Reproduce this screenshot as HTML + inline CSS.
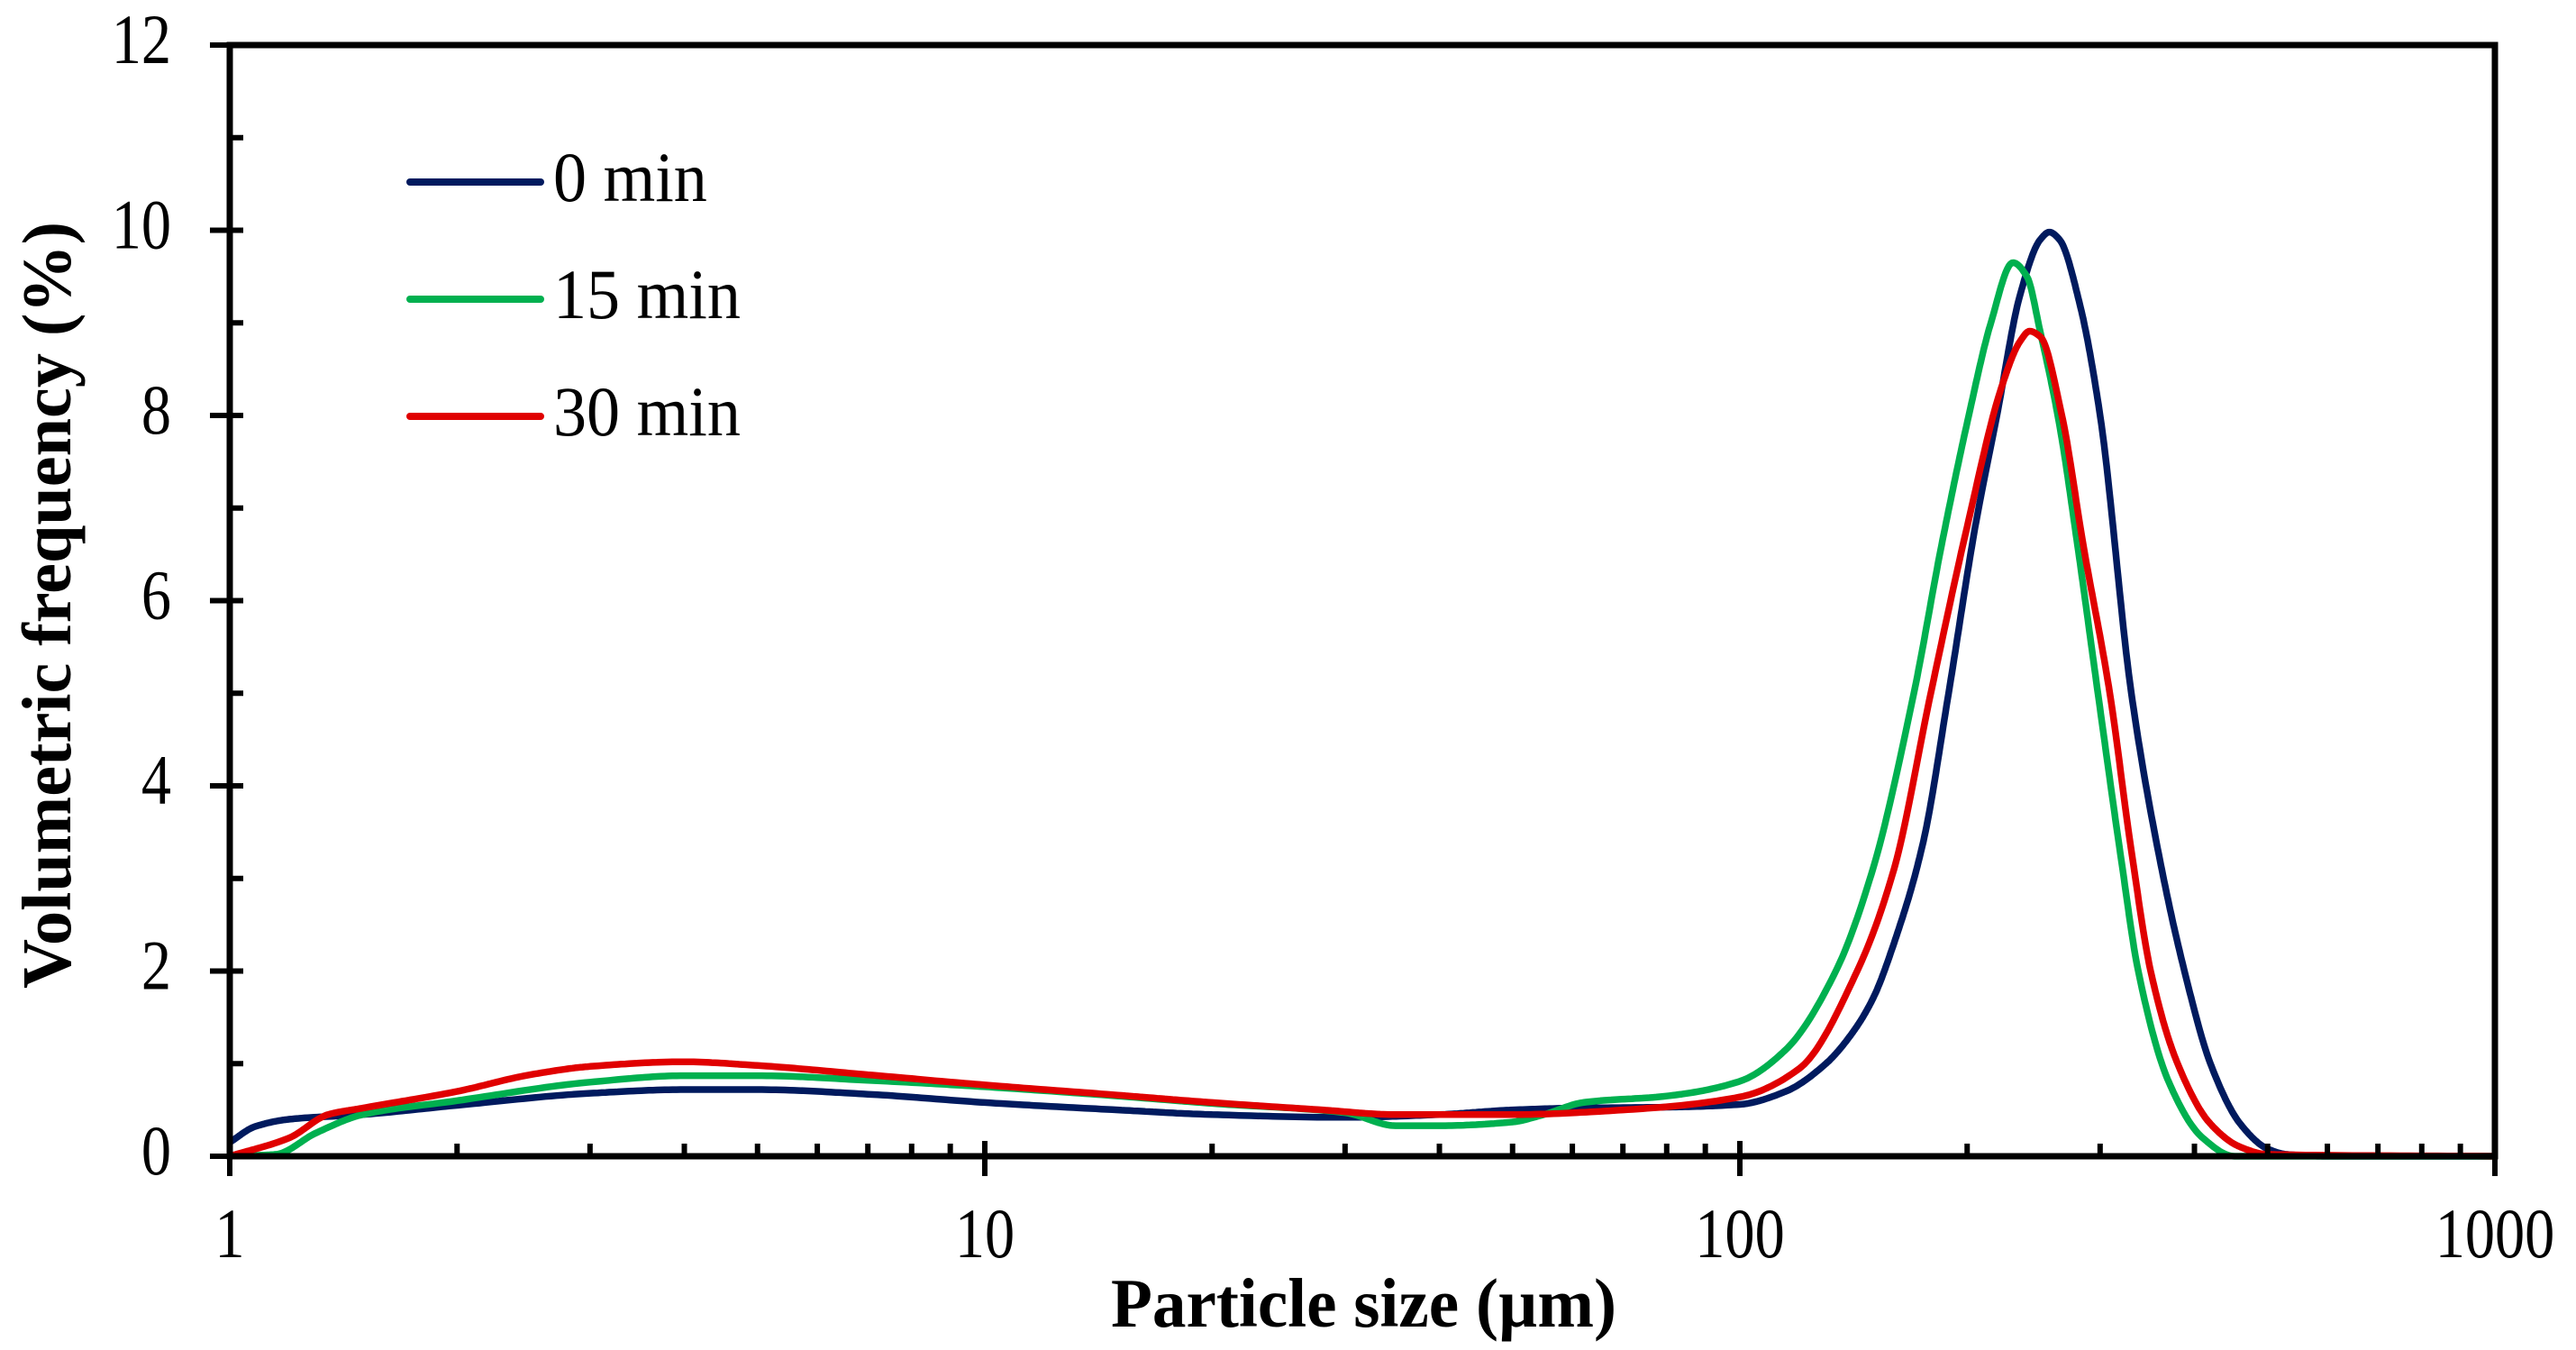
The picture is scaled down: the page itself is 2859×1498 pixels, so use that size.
<!DOCTYPE html>
<html><head><meta charset="utf-8"><style>
html,body{margin:0;padding:0;background:#fff;}
svg{display:block;}
text{font-family:"Liberation Serif","Times New Roman",serif;fill:#000;}
</style></head><body>
<svg id="chart" width="2859" height="1498" viewBox="0 0 2859 1498" xmlns="http://www.w3.org/2000/svg">
<g id="series"></g>
<g id="axes"></g>
<g id="legend"></g>
</svg>
<script>
const xTickValues = [1, 10, 100, 1000];
const xTickLabels = ["1", "10", "100", "1000"];
const yTickValues = [0, 2, 4, 6, 8, 10, 12];
const yTickLabels = ["0", "2", "4", "6", "8", "10", "12"];
const seriesNames = ["0 min", "15 min", "30 min"];
const seriesColors = ["#001a5e", "#00b04f", "#e00000"];
const x0min = [1,1.08,1.2,1.5,2,3,4,5,7,10,15,20,30,40,50,60,80,100,115,130,140,150,160,175,189,205,219,235,250,257,265,282,300,330,360,388,420,460,500,530,600,1000];
const y0min = [0.15,0.32,0.4,0.45,0.55,0.68,0.72,0.72,0.67,0.58,0.5,0.45,0.42,0.45,0.5,0.52,0.53,0.56,0.7,1.0,1.3,1.7,2.3,3.4,5.0,6.8,8.0,9.3,9.9,9.98,9.9,9.2,8.0,5.0,3.2,2.0,1.0,0.35,0.08,0.02,0,0];
const x15min = [1,1.15,1.3,1.5,2,3,4,5,7,10,15,20,30,35,40,50,55,62,80,100,115,134,150,170,185,201,215,230,240,250,265,280,298,320,337,370,410,452,1000];
const y15min = [0,0.02,0.25,0.45,0.6,0.8,0.87,0.87,0.82,0.75,0.65,0.57,0.47,0.33,0.33,0.37,0.45,0.58,0.65,0.81,1.15,2.0,3.1,5.0,6.6,8.0,9.0,9.65,9.5,8.9,7.9,6.6,5.0,3.2,2.0,0.8,0.2,0,0];
const x30min = [1,1.2,1.35,1.5,2,2.5,3,4,5,7,10,15,20,28,35,50,70,100,120,143,160,179,200,222,235,242,250,267,285,309,330,350,380,420,460,500,1000];
const y30min = [0,0.2,0.45,0.52,0.7,0.88,0.97,1.02,0.98,0.88,0.77,0.66,0.58,0.5,0.45,0.45,0.5,0.64,0.95,2.0,3.1,5.0,6.8,8.3,8.8,8.91,8.85,8.0,6.6,5.0,3.3,2.0,1.0,0.35,0.1,0.02,0];

const NS = "http://www.w3.org/2000/svg";
const L = 255, R = 2769, T = 50, B = 1283;
function xs(v){ return L + Math.log10(v) / 3 * (R - L); }
function ys(v){ return B - v / 12 * (B - T); }
function mk(tag, attrs, parent){
  const e = document.createElementNS(NS, tag);
  for (const k in attrs) e.setAttribute(k, attrs[k]);
  parent.appendChild(e); return e;
}
const axes = document.getElementById('axes');
const series = document.getElementById('series');
const legend = document.getElementById('legend');

const frame = mk('rect', {x:L, y:T, width:R-L, height:B-T, fill:'none', stroke:'#000', 'stroke-width':7}, axes);



for (let v = 0; v <= 12; v++) {
  const y = ys(v);
  const major = v % 2 === 0;
  const t = mk('line', {x1: major ? L-22 : L, x2: L+15, y1:y, y2:y, stroke:'#000', 'stroke-width':6}, axes);
  
  
}
yTickValues.forEach((v,i) => {
  const tx = mk('text', {x:0, y:0, 'font-size':78, 'text-anchor':'end', transform:`translate(190,${ys(v)+20}) scale(0.85,1)`}, axes);
  tx.textContent = yTickLabels[i];
  
  
});
for (let d = 0; d < 3; d++) {
  for (let m = 2; m <= 9; m++) {
    const x = xs(m * Math.pow(10, d));
    const t = mk('line', {x1:x, x2:x, y1:B, y2:B-14, stroke:'#000', 'stroke-width':6}, axes);
    
    
  }
}
xTickValues.forEach((v,i) => {
  const x = xs(v);
  const t = mk('line', {x1:x, x2:x, y1:B-17, y2:B+22, stroke:'#000', 'stroke-width':6}, axes);
  
  
  const tx = mk('text', {x:0, y:0, 'font-size':78, 'text-anchor':'middle', transform:`translate(${x},1395) scale(0.85,1)`}, axes);
  tx.textContent = xTickLabels[i];
  
  
});
const xt = mk('text', {x:1233, y:1472, 'font-size':77, 'font-weight':'bold', textLength:561, lengthAdjust:'spacingAndGlyphs'}, axes);
xt.textContent = 'Particle size (µm)';


const yt = mk('text', {x:0, y:0, 'font-size':77, 'font-weight':'bold', textLength:851, lengthAdjust:'spacingAndGlyphs', transform:'translate(78,1097) rotate(-90)'}, axes);
yt.textContent = 'Volumetric frequency (%)';



function monoPath(xv, yv){
  const u = xv.map(v => Math.log10(v)), n = u.length;
  const dl = [], m = new Array(n);
  for (let i = 0; i < n-1; i++) dl.push((yv[i+1]-yv[i])/(u[i+1]-u[i]));
  m[0] = dl[0]; m[n-1] = dl[n-2];
  for (let i = 1; i < n-1; i++) {
    if (dl[i-1]*dl[i] <= 0) m[i] = 0;
    else { const h0 = u[i]-u[i-1], h1 = u[i+1]-u[i];
      const w1 = 2*h1+h0, w2 = h1+2*h0;
      m[i] = (w1+w2)/(w1/dl[i-1]+w2/dl[i]); }
  }
  let d = '';
  for (let i = 0; i < n-1; i++) {
    const h = u[i+1]-u[i];
    const steps = 24;
    for (let s = (i===0?0:1); s <= steps; s++) {
      const t = s/steps, t2=t*t, t3=t2*t;
      const yv2 = (2*t3-3*t2+1)*yv[i] + (t3-2*t2+t)*h*m[i] + (-2*t3+3*t2)*yv[i+1] + (t3-t2)*h*m[i+1];
      const px = L + (u[i]+t*h)/3*(R-L), py = ys(Math.max(0,yv2));
      d += (d ? ' L' : 'M') + px.toFixed(1) + ',' + py.toFixed(1);
    }
  }
  return d;
}
const allX = [x0min, x15min, x30min], allY = [y0min, y15min, y30min];
const sNames = ['line-0-min', 'line-15-min', 'line-30-min'];
allX.forEach((xv, k) => {
  const pth = mk('path', {d: monoPath(xv, allY[k]), fill:'none', stroke:seriesColors[k], 'stroke-width':7.5, 'stroke-linejoin':'round'}, series);
  
  
});

const legY = [202, 332, 462];
seriesNames.forEach((n, k) => {
  const ln = mk('line', {x1:455, x2:600, y1:legY[k], y2:legY[k], stroke:seriesColors[k], 'stroke-width':8, 'stroke-linecap':'round'}, legend);
  
  
  const tx = mk('text', {x:0, y:0, 'font-size':78, transform:`translate(614,${legY[k]+21}) scale(0.95,1)`}, legend);
  tx.textContent = n;
  
  
});
</script>
</body></html>
